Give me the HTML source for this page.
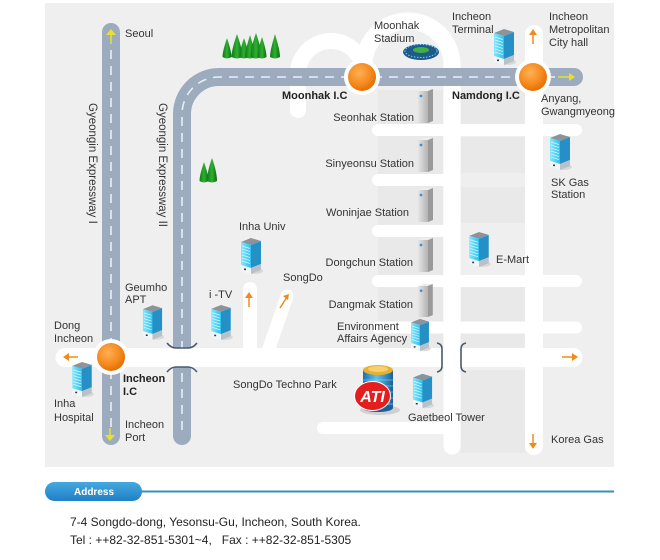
<!DOCTYPE html>
<html><head><meta charset="utf-8"><style>
html,body{margin:0;padding:0;background:#fff;}
body{width:660px;height:560px;overflow:hidden;position:relative;font-family:"Liberation Sans",Arial,sans-serif;}
svg{position:absolute;left:0;top:0;}
.t{font-family:"Liberation Sans",Arial,sans-serif;font-size:11px;fill:#333;}
.b{font-weight:bold;fill:#222;}
</style></head><body>
<svg width="660" height="560" viewBox="0 0 660 560" xmlns="http://www.w3.org/2000/svg">
<defs>
<linearGradient id="cy" x1="0" y1="0" x2="1" y2="0"><stop offset="0" stop-color="#86e8ff"/><stop offset="1" stop-color="#2cc0ee"/></linearGradient>
<linearGradient id="gr" x1="0" y1="0" x2="1" y2="0"><stop offset="0" stop-color="#e4e4e4"/><stop offset="1" stop-color="#b4b4b4"/></linearGradient>
<radialGradient id="og" cx="0.4" cy="0.35" r="0.7"><stop offset="0" stop-color="#ffb055"/><stop offset="0.6" stop-color="#f58a1e"/><stop offset="1" stop-color="#e06a00"/></radialGradient>
<linearGradient id="tg" x1="0" y1="0" x2="1" y2="0"><stop offset="0" stop-color="#0c7a1a"/><stop offset="0.5" stop-color="#30b030"/><stop offset="1" stop-color="#0a6a14"/></linearGradient>
<linearGradient id="cyl" x1="0" y1="0" x2="1" y2="0"><stop offset="0" stop-color="#1f6fae"/><stop offset="0.45" stop-color="#5cc4f0"/><stop offset="1" stop-color="#1a5f9a"/></linearGradient>
<linearGradient id="pill" x1="0" y1="0" x2="0" y2="1"><stop offset="0" stop-color="#45a8e0"/><stop offset="1" stop-color="#1f80c4"/></linearGradient>
<symbol id="bb" viewBox="0 0 24 38">
<ellipse cx="16" cy="34" rx="8" ry="3" fill="#d8d8d8"/>
<polygon points="2,5 12,1 22,4 12,8" fill="#8c939b"/>
<polygon points="2,5 12,8 12,31 2,28" fill="url(#cy)"/>
<g stroke="#d8f6ff" stroke-width="0.8"><line x1="3" y1="9" x2="11" y2="11.5"/><line x1="3" y1="12" x2="11" y2="14.5"/><line x1="3" y1="15" x2="11" y2="17.5"/><line x1="3" y1="18" x2="11" y2="20.5"/><line x1="3" y1="21" x2="11" y2="23.5"/><line x1="3" y1="24" x2="11" y2="26.5"/></g>
<polygon points="12,8 22,4 22,27 12,31" fill="#2590c6"/>
<polygon points="2,28 12,31 12,37 2,34" fill="#f2f5f7"/>
<polygon points="12,31 22,27 22,33 12,37" fill="#b8c0c8"/>
<rect x="5" y="31.5" width="2" height="1.6" fill="#2a3a4a"/>
</symbol>
<symbol id="st" viewBox="0 0 17 36">
<polygon points="1,3 6,1 16,1 11,3" fill="#eeeeee"/>
<rect x="1" y="3" width="10" height="32" fill="url(#gr)"/>
<polygon points="11,3 16,1 16,33 11,35" fill="#9a9a9a"/>
<circle cx="4" cy="8" r="1.4" fill="#4a90c8"/>
</symbol>
</defs>

<!-- panel -->
<rect x="45" y="3" width="569" height="464" fill="#efefef"/>

<!-- blocks -->
<g fill="#e9e9e9">
<rect x="378" y="90" width="65" height="34"/><rect x="378" y="136" width="65" height="39"/><rect x="378" y="186" width="65" height="39"/><rect x="378" y="237" width="65" height="38"/><rect x="378" y="287" width="65" height="35"/><rect x="378" y="333" width="65" height="15"/>
<rect x="461" y="90" width="64" height="34"/><rect x="461" y="137" width="64" height="36"/><rect x="461" y="187" width="64" height="36"/><rect x="461" y="287" width="64" height="35"/><rect x="461" y="333" width="64" height="15"/>
<rect x="461" y="370" width="64" height="83"/>
</g>

<!-- white local roads -->
<g fill="none" stroke="#ffffff" stroke-linecap="round">
<path d="M298 110 L298 74 A33 33 0 0 1 364 74 L364 80" stroke-width="16"/>
<path d="M364 80 L364 65 A44 44 0 0 1 452 65 L452 446" stroke-width="17"/>
<path d="M534 34 L534 446" stroke-width="18"/>
<path d="M378 130 L576 130 M378 180 L452 180 M378 231 L452 231 M378 281 L576 281 M378 327.5 L576 327.5 M323 428 L452 428" stroke-width="12"/>
<path d="M250 289 L250 357" stroke-width="14"/>
<path d="M266 357 L287 296" stroke-width="13"/>
</g>

<!-- expressways -->
<g fill="none" stroke="#9cacbe" stroke-width="18" stroke-linecap="round">
<path d="M111 32 L111 436"/>
<path d="M182 436 L182 114 A37 37 0 0 1 219 77 L574 77"/>
</g>
<g fill="none" stroke="#e9eef4" stroke-width="1.6" stroke-dasharray="9 7">
<path d="M111 50 L111 430"/>
<path d="M182 430 L182 114 A37 37 0 0 1 219 77 L555 77"/>
</g>

<!-- main white road (over expressway II) -->
<path d="M65 357.5 L573 357.5" stroke="#ffffff" stroke-width="19" stroke-linecap="round" fill="none"/>

<!-- overpass marks -->
<g fill="none" stroke="#4a5a6e" stroke-width="1.6">
<path d="M167 343 Q171 348 176 348 L188 348 Q193 348 197 343"/>
<path d="M167 372 Q171 367 176 367 L188 367 Q193 367 197 372"/>
<path d="M437 343 Q442 344 442 349 L442 366 Q442 371 437 372"/>
<path d="M466 343 Q461 344 461 349 L461 366 Q461 371 466 372"/>
</g>

<!-- interchanges -->
<g>
<circle cx="362" cy="77" r="18" fill="#ffffff"/><circle cx="362" cy="77" r="14" fill="url(#og)"/>
<circle cx="533" cy="77" r="18" fill="#ffffff"/><circle cx="533" cy="77" r="14" fill="url(#og)"/>
<circle cx="111" cy="357" r="18" fill="#ffffff"/><circle cx="111" cy="357" r="14" fill="url(#og)"/>
</g>

<!-- arrows -->
<g stroke-width="1.5" fill="none">
<g stroke="#e8e030"><path d="M111 44 L111 32"/><path d="M110 428 L110 438"/><path d="M558 77 L572 77"/></g>
<g stroke="#f08a1c"><path d="M533 44 L533 32"/><path d="M249 307 L249 295"/><path d="M280 308 L287 297"/><path d="M78 357 L66 357"/><path d="M562 357 L575 357"/><path d="M533 434 L533 446"/></g>
</g>
<g>
<polygon points="111,29 106,35 116,35" fill="#e8e030"/>
<polygon points="110,441 105,435 115,435" fill="#e8e030"/>
<polygon points="575,77 569,73 569,81" fill="#e8e030"/>
<polygon points="533,29 529,35 537,35" fill="#f08a1c"/>
<polygon points="249,292 245,298 253,298" fill="#f08a1c"/>
<polygon points="289,294 283,296 288,300" fill="#f08a1c"/>
<polygon points="63,357 69,353 69,361" fill="#f08a1c"/>
<polygon points="578,357 572,353 572,361" fill="#f08a1c"/>
<polygon points="533,449 529,443 537,443" fill="#f08a1c"/>
</g>

<!-- trees -->
<g fill="url(#tg)">
<path d="M227 38 C229 44 231.5 52 231.5 57 Q227 60 222.5 57 C222.5 52 225 44 227 38Z"/>
<path d="M237 34 C239.5 41 242.5 51 242.5 57 Q237 60 231.5 57 C231.5 51 234.5 41 237 34Z"/>
<path d="M244 38 C246 44 248.5 52 248.5 57 Q244 60 239.5 57 C239.5 52 242 44 244 38Z"/>
<path d="M250 35 C252 42 255 51 255 57 Q250 60 245 57 C245 51 248 42 250 35Z"/>
<path d="M256 33 C258.5 40 261.5 50 261.5 57 Q256 60 250.5 57 C250.5 50 253.5 40 256 33Z"/>
<path d="M262 37 C264 43 266.5 52 266.5 57 Q262 60 257.5 57 C257.5 52 260 43 262 37Z"/>
<path d="M275 34 C277 41 280 51 280 57 Q275 60 270 57 C270 51 273 41 275 34Z"/>
<path d="M204 162 C206 168 208.5 176 208.5 181 Q204 184 199.5 181 C199.5 176 202 168 204 162Z"/>
<path d="M212 158 C214.5 165 217 174 217 181 Q212 184 207 181 C207 174 209.5 165 212 158Z"/>
</g>

<!-- stadium -->
<g>
<ellipse cx="421" cy="52" rx="18" ry="8" fill="#1e5a8a"/>
<ellipse cx="421" cy="51" rx="16" ry="6.5" fill="none" stroke="#7ad0f0" stroke-width="1" stroke-dasharray="1.5 1.5"/>
<ellipse cx="421" cy="50" rx="8" ry="3" fill="#40b040"/>
</g>

<!-- buildings -->
<use href="#bb" x="492" y="28" width="24" height="38"/>
<use href="#bb" x="548" y="133" width="24" height="38"/>
<use href="#bb" x="467" y="231" width="24" height="37"/>
<use href="#bb" x="409" y="318" width="22" height="34"/>
<use href="#bb" x="411" y="372" width="23" height="38"/>
<use href="#bb" x="141" y="304" width="23" height="37"/>
<use href="#bb" x="209" y="304" width="24" height="37"/>
<use href="#bb" x="239" y="237" width="24" height="38"/>
<use href="#bb" x="70" y="361" width="24" height="37"/>

<use href="#st" x="417" y="88" width="17" height="36"/>
<use href="#st" x="417" y="137" width="17" height="36"/>
<use href="#st" x="417" y="187" width="17" height="36"/>
<use href="#st" x="417" y="237" width="17" height="36"/>
<use href="#st" x="417" y="283" width="17" height="35"/>

<!-- ATI -->
<g>
<ellipse cx="380" cy="410" rx="20" ry="5" fill="#d0d0d0"/>
<rect x="363" y="370" width="30" height="38" fill="url(#cyl)"/>
<g stroke="#9ad8f4" stroke-width="0.7" opacity="0.7"><line x1="363" y1="380" x2="393" y2="380"/><line x1="363" y1="386" x2="393" y2="386"/><line x1="363" y1="392" x2="393" y2="392"/><line x1="363" y1="398" x2="393" y2="398"/><line x1="363" y1="404" x2="393" y2="404"/></g>
<ellipse cx="378" cy="408" rx="15" ry="4" fill="#1a5f9a"/>
<ellipse cx="378" cy="370" rx="15" ry="5" fill="#e8b030"/>
<ellipse cx="378" cy="369" rx="10" ry="3" fill="#f5d070"/>
<ellipse cx="372.5" cy="396" rx="18" ry="14.5" fill="#e41e1e" stroke="#ffffff" stroke-width="1"/>
<text x="372.5" y="402" text-anchor="middle" font-family="Liberation Sans, Arial, sans-serif" font-size="16" font-weight="bold" font-style="italic" fill="#ffffff">ATI</text>
</g>

<!-- labels -->
<g class="t">
<text x="125" y="37">Seoul</text>
<text transform="translate(89,103) rotate(90)" style="font-size:11.5px">Gyeongin Expressway I</text>
<text transform="translate(159,103) rotate(90)" style="font-size:11.5px">Gyeongin Expressway II</text>
<text x="374" y="29">Moonhak</text><text x="374" y="42">Stadium</text>
<text x="452" y="20">Incheon</text><text x="452" y="33">Terminal</text>
<text x="549" y="20">Incheon</text><text x="549" y="33">Metropolitan</text><text x="549" y="46">City hall</text>
<text class="t b" x="282" y="99">Moonhak I.C</text>
<text class="t b" x="452" y="99">Namdong I.C</text>
<text x="541" y="102">Anyang,</text><text x="541" y="115">Gwangmyeong</text>
<text x="414" y="121" text-anchor="end">Seonhak Station</text>
<text x="414" y="167" text-anchor="end">Sinyeonsu Station</text>
<text x="409" y="216" text-anchor="end">Woninjae Station</text>
<text x="413" y="266" text-anchor="end">Dongchun Station</text>
<text x="413" y="308" text-anchor="end">Dangmak Station</text>
<text x="551" y="186">SK Gas</text><text x="551" y="198">Station</text>
<text x="496" y="263">E-Mart</text>
<text x="337" y="330">Environment</text><text x="337" y="342">Affairs Agency</text>
<text x="408" y="421">Gaetbeol Tower</text>
<text x="551" y="443">Korea Gas</text>
<text x="239" y="230">Inha Univ</text>
<text x="283" y="281">SongDo</text>
<text x="125" y="291">Geumho</text><text x="125" y="303">APT</text>
<text x="209" y="298">i -TV</text>
<text x="54" y="329">Dong</text><text x="54" y="342">Incheon</text>
<text class="t b" x="123" y="382">Incheon</text><text class="t b" x="123" y="395">I.C</text>
<text x="233" y="388">SongDo Techno Park</text>
<text x="54" y="407">Inha</text><text x="54" y="421">Hospital</text>
<text x="125" y="428">Incheon</text><text x="125" y="441">Port</text>
</g>

<!-- address -->
<line x1="140" y1="491.5" x2="614" y2="491.5" stroke="#3a8db4" stroke-width="2"/>
<rect x="45" y="482" width="97" height="19" rx="9.5" fill="url(#pill)"/>
<text x="94" y="495" text-anchor="middle" font-family="Liberation Sans, Arial, sans-serif" font-size="10" font-weight="bold" fill="#ffffff">Address</text>
<text x="70" y="526" font-family="Liberation Sans, Arial, sans-serif" font-size="12" fill="#222">7-4 Songdo-dong, Yesonsu-Gu, Incheon, South Korea.</text>
<text x="70" y="544" font-family="Liberation Sans, Arial, sans-serif" font-size="12" fill="#222" xml:space="preserve">Tel : ++82-32-851-5301~4,   Fax : ++82-32-851-5305</text>
</svg>
</body></html>
